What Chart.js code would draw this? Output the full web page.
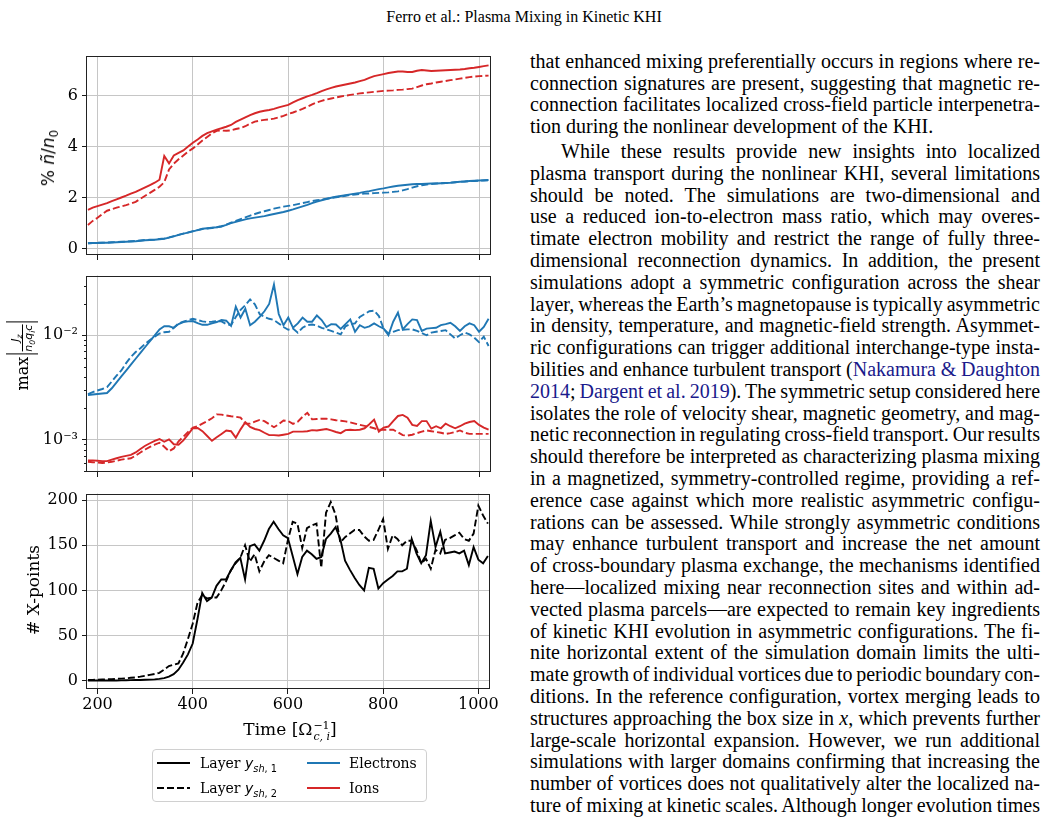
<!DOCTYPE html>
<html>
<head>
<meta charset="utf-8">
<script src="https://cdn.jsdelivr.net/npm/chart.js@4.4.1/dist/chart.umd.min.js"></script>
<style>
html,body{margin:0;padding:0;background:#fff}
body{position:relative;width:1048px;height:826px;overflow:hidden;font-family:"Liberation Serif","Times New Roman",serif;color:#000}
canvas{position:absolute;left:0}
#hdr{position:absolute;left:0;width:1048px;top:7px;text-align:center;font-size:16px;line-height:20px}
.ln{position:absolute;height:22px;line-height:22px;font-size:20px;white-space:nowrap}
.lk{color:#1a1a8c}
.yl{position:absolute;transform:translate(-50%,-50%) rotate(-90deg);white-space:nowrap;font-size:17px}
.sans{font-family:"DejaVu Sans",sans-serif}
.serif{font-family:"DejaVu Serif",serif}
sub,sup{font-size:70%;line-height:0}
#xt{position:absolute;left:290px;top:730px;transform:translate(-50%,-50%);font-family:"DejaVu Serif",serif;font-size:17px;white-space:nowrap}
.ss{display:inline-block;vertical-align:middle;line-height:11px;font-size:11px;text-align:left;margin-left:1px}
#legend{position:absolute;left:152px;top:749px;width:273px;height:51px;border:1px solid #d0d0d0;border-radius:4px;font-family:"DejaVu Serif",serif;font-size:14px}
.li{position:absolute;white-space:nowrap;transform:translateY(-50%)}
.sw{position:absolute}
.bar{display:inline-block;width:0;height:32px;border-left:1.6px solid #000;vertical-align:middle;margin:0 2px}
.frac{display:inline-block;vertical-align:middle;text-align:center;font-family:"DejaVu Sans",sans-serif;font-style:italic;font-size:11px;line-height:12px}
.frac .num{display:block;border-bottom:1px solid #000;padding:0 1px}
.frac .den{display:block}
</style>
</head>
<body>
<div id="hdr">Ferro et al.: Plasma Mixing in Kinetic KHI</div>

<canvas id="c1" width="500" height="230" style="top:40px"></canvas>
<canvas id="c2" width="500" height="226" style="top:262px"></canvas>
<canvas id="c3" width="500" height="260" style="top:480px"></canvas>

<div class="yl sans" style="left:48px;top:158px">%&nbsp;<i>ñ</i>/<i>n</i><sub>0</sub></div>
<div class="yl" style="left:22px;top:355px"><span class="serif" style="font-size:16px;vertical-align:middle">max</span><span class="bar"></span><span class="frac"><span class="num">J<sub>z</sub></span><span class="den">n<sub>0</sub>q<sub>i</sub>c</span></span><span class="bar"></span></div>
<div class="yl serif" style="left:33px;top:590px"># X-points</div>
<div id="xt">Time [Ω<span class="ss"><sup style="font-size:11px;line-height:11px;display:block;vertical-align:0">−1</sup><i style="display:block">c, i</i></span>]</div>

<div id="legend">
<svg class="sw" style="left:4px;top:6px" width="34" height="14"><line x1="0" y1="7" x2="33" y2="7" stroke="#000" stroke-width="1.9"/></svg>
<div class="li" style="left:47px;top:13px">Layer <span class="sans"><i>y</i><sub><i>sh</i>, 1</sub></span></div>
<svg class="sw" style="left:4px;top:31px" width="34" height="14"><line x1="0" y1="7" x2="33" y2="7" stroke="#000" stroke-width="1.9" stroke-dasharray="7,3"/></svg>
<div class="li" style="left:47px;top:38px">Layer <span class="sans"><i>y</i><sub><i>sh</i>, 2</sub></span></div>
<svg class="sw" style="left:154px;top:6px" width="34" height="14"><line x1="0" y1="7" x2="33" y2="7" stroke="#1f77b4" stroke-width="1.9"/></svg>
<div class="li" style="left:196px;top:13px">Electrons</div>
<svg class="sw" style="left:154px;top:31px" width="34" height="14"><line x1="0" y1="7" x2="33" y2="7" stroke="#d62728" stroke-width="1.9"/></svg>
<div class="li" style="left:196px;top:38px">Ions</div>
</div>

<div id="txt"></div>

<script>
// time samples (Omega_ci^-1)
const time=[180,190,200,210,220,230,240,250,260,270,
280,290,300,310,320,330,340,350,360,370,
380,390,400,410,420,430,440,450,460,470,
480,490,500,510,520,530,540,550,560,570,
580,590,600,610,620,630,640,650,660,670,
680,690,700,710,720,730,740,750,760,770,
780,790,800,810,820,830,840,850,860,870,
880,890,900,910,920,930,940,950,960,970,
980,990,1000,1010,1020]

// panel 1: % mixed density
const ionsMix1=[1.51,1.60,1.66,1.72,1.78,1.86,1.93,2.00,2.07,2.15,
2.22,2.31,2.40,2.49,2.58,2.70,3.63,3.34,3.65,3.75,
3.85,4.00,4.15,4.28,4.42,4.53,4.60,4.67,4.72,4.78,
4.85,4.97,5.06,5.15,5.24,5.31,5.37,5.41,5.44,5.48,
5.54,5.59,5.64,5.74,5.83,5.90,5.97,6.03,6.10,6.18,
6.25,6.31,6.36,6.40,6.44,6.48,6.52,6.57,6.62,6.70,
6.77,6.81,6.85,6.89,6.92,6.95,6.95,6.93,6.93,6.98,
7.01,6.99,6.97,6.98,6.99,7.00,7.01,7.02,7.03,7.05,
7.08,7.10,7.13,7.16,7.19]
const ionsMix2=[0.92,1.08,1.20,1.35,1.48,1.54,1.60,1.65,1.70,1.76,
1.83,1.95,2.07,2.18,2.30,2.42,2.60,3.10,3.33,3.50,
3.65,3.80,3.93,4.08,4.24,4.38,4.52,4.62,4.63,4.62,
4.64,4.69,4.73,4.80,4.90,4.98,5.02,5.05,5.07,5.10,
5.15,5.21,5.28,5.34,5.41,5.48,5.57,5.66,5.74,5.80,
5.85,5.89,5.93,5.97,6.00,6.03,6.06,6.09,6.11,6.13,
6.15,6.17,6.19,6.20,6.21,6.23,6.24,6.26,6.28,6.34,
6.40,6.45,6.48,6.52,6.55,6.58,6.61,6.64,6.67,6.70,
6.73,6.75,6.77,6.78,6.79]
const elecMix1=[0.20,0.21,0.21,0.22,0.22,0.23,0.24,0.25,0.26,0.27,
0.28,0.30,0.32,0.33,0.34,0.36,0.38,0.42,0.47,0.53,
0.58,0.62,0.67,0.72,0.77,0.79,0.81,0.83,0.86,0.92,
0.99,1.04,1.09,1.14,1.18,1.21,1.24,1.27,1.31,1.35,
1.39,1.43,1.48,1.53,1.59,1.65,1.71,1.78,1.84,1.89,
1.94,1.99,2.03,2.06,2.09,2.12,2.15,2.18,2.22,2.25,
2.29,2.33,2.36,2.40,2.43,2.46,2.48,2.50,2.52,2.53,
2.53,2.54,2.55,2.55,2.56,2.57,2.58,2.60,2.62,2.63,
2.65,2.66,2.67,2.68,2.69]
const elecMix2=[0.20,0.21,0.22,0.22,0.23,0.24,0.25,0.26,0.27,0.28,
0.29,0.31,0.33,0.34,0.35,0.37,0.39,0.43,0.48,0.53,
0.58,0.63,0.68,0.72,0.76,0.78,0.80,0.83,0.87,0.93,
1.01,1.08,1.15,1.22,1.29,1.35,1.41,1.46,1.51,1.56,
1.60,1.64,1.67,1.70,1.74,1.78,1.82,1.86,1.89,1.92,
1.95,1.98,2.01,2.04,2.07,2.10,2.12,2.14,2.15,2.16,
2.17,2.18,2.19,2.20,2.22,2.24,2.28,2.33,2.39,2.44,
2.48,2.51,2.53,2.55,2.56,2.57,2.58,2.60,2.62,2.63,
2.64,2.65,2.66,2.67,2.68]

// panel 2: max |Jz/(n0 qi c)|
const elecJz1=[.00267,.00270,.00273,.00276,.00279,.00310,.00353,.00403,.00458,.00522,
.00595,.00678,.00772,.0088,.0100,.0114,.0122,.0122,.0118,.0128,
.0134,.0136,.0137,.0131,.0126,.0126,.0130,.0134,.0140,.0138,
.0123,.0188,.0148,.0180,.0125,.0135,.0150,.0170,.0200,.0307,
.0160,.0125,.0148,.0118,.0130,.0148,.0135,.0135,.0155,.0140,
.0120,.0128,.0127,.0115,.0128,.0142,.0108,.0125,.0118,.0122,
.0130,.0122,.0116,.0100,.0135,.0165,.0114,.0128,.0142,.0140,
.0110,.0116,.0117,.0118,.0125,.0128,.0132,.0122,.0110,.0122,
.0130,.0125,.0108,.0120,.0144]
const elecJz2=[.00273,.00285,.00295,.00305,.00318,.00360,.00410,.00460,.00540,.00620,
.00690,.00750,.00830,.00900,.00970,.0104,.0107,.0108,.0118,.0130,
.0135,.0140,.0144,.0140,.0136,.0134,.0135,.0137,.0136,.0128,
.0125,.0150,.0175,.0195,.0221,.0198,.0160,.0150,.0144,.0140,
.0130,.0120,.0113,.0116,.0106,.0118,.0125,.0127,.0124,.0118,
.0114,.0110,.0106,.0102,.0122,.0128,.0130,.0150,.0160,.0170,
.0172,.0153,.0115,.0104,.0108,.0112,.0113,.0114,.0114,.0110,
.0105,.0100,.0106,.0108,.0110,.0112,.0102,.0093,.0100,.0106,
.0102,.0095,.0086,.0097,.0079]
const ionsJz1=[6.3e-4,6.3e-4,6.25e-4,6.2e-4,6.2e-4,6.4e-4,6.6e-4,6.8e-4,6.95e-4,7.1e-4,
7.5e-4,8.1e-4,8.7e-4,9.2e-4,9.7e-4,1.01e-3,9.5e-4,1.0e-3,9.0e-4,8.9e-4,
9.8e-4,1.12e-3,1.28e-3,1.29e-3,1.2e-3,1.08e-3,9.7e-4,1.05e-3,1.13e-3,1.22e-3,
1.2e-3,1.04e-3,1.25e-3,1.46e-3,1.32e-3,1.26e-3,1.23e-3,1.16e-3,1.1e-3,1.1e-3,
1.09e-3,1.11e-3,1.13e-3,1.19e-3,1.19e-3,1.19e-3,1.2e-3,1.23e-3,1.22e-3,1.24e-3,
1.26e-3,1.22e-3,1.18e-3,1.15e-3,1.23e-3,1.24e-3,1.23e-3,1.24e-3,1.28e-3,1.4e-3,
1.55e-3,1.19e-3,1.3e-3,1.33e-3,1.5e-3,1.68e-3,1.72e-3,1.62e-3,1.38e-3,1.35e-3,
1.5e-3,1.5e-3,1.27e-3,1.34e-3,1.28e-3,1.42e-3,1.34e-3,1.28e-3,1.34e-3,1.42e-3,
1.47e-3,1.5e-3,1.38e-3,1.3e-3,1.24e-3]
const ionsJz2=[6.1e-4,6.05e-4,6.0e-4,5.95e-4,6.0e-4,6.1e-4,6.25e-4,6.4e-4,6.5e-4,6.6e-4,
7.0e-4,7.5e-4,8.0e-4,8.5e-4,8.9e-4,9.3e-4,8.5e-4,7.7e-4,8.2e-4,9.6e-4,
1.06e-3,1.18e-3,1.30e-3,1.34e-3,1.42e-3,1.50e-3,1.60e-3,1.74e-3,1.73e-3,1.70e-3,
1.67e-3,1.65e-3,1.62e-3,1.42e-3,1.42e-3,1.48e-3,1.54e-3,1.50e-3,1.40e-3,1.31e-3,
1.40e-3,1.52e-3,1.50e-3,1.41e-3,1.48e-3,1.65e-3,1.80e-3,1.56e-3,1.57e-3,1.58e-3,
1.58e-3,1.56e-3,1.53e-3,1.51e-3,1.49e-3,1.46e-3,1.42e-3,1.38e-3,1.35e-3,1.32e-3,
1.28e-3,1.24e-3,1.24e-3,1.24e-3,1.24e-3,1.17e-3,1.10e-3,1.09e-3,1.11e-3,1.15e-3,
1.19e-3,1.22e-3,1.20e-3,1.18e-3,1.16e-3,1.13e-3,1.15e-3,1.18e-3,1.22e-3,1.16e-3,
1.13e-3,1.13e-3,1.13e-3,1.13e-3,1.13e-3]

// panel 3: number of X-points
const xpts1=[0,0,0,0,0,0,0.1,0.2,0.3,0.4,
0.5,0.6,0.8,1.0,1.3,1.8,2.7,4.3,7.0,12,
20,29,41,68,97,88,92,105,112,112,
122,131,136,112,149,151,144,155,168,176,
168,161,158,138,118,137,144,140,135,137,
157,163,170,157,133,123,114,106,100,125,
124,102,108,112,116,121,121,124,157,141,
130,139,177,148,165,141,142,143,141,144,
128,148,134,130,138]
const xpts2=[0.5,0.7,0.9,1.1,1.3,1.5,1.8,2.1,2.5,3.0,
3.5,4.3,5.3,6.3,7.3,8.5,12,16,17.5,19,
30,46,63,86,95,91,92,92,100,110,
122,130,136,150,132,140,121,132,139,136,
133,130,156,176,174,147,169,172,174,125,
186,198,184,153,159,163,167,167,160,155,
156,167,179,146,161,157,150,155,155,145,
130,135,124,145,141,156,158,161,164,157,
155,163,194,183,174]

const xTicks=[200,400,600,800,1000]
const mixTicks=[0,2,4,6]
const jzMajor=[0.001,0.01]
const jzMinor=[5e-4,6e-4,7e-4,8e-4,9e-4,2e-3,3e-3,4e-3,5e-3,6e-3,7e-3,8e-3,9e-3,2e-2,3e-2]
const xpTicks=[0,50,100,150,200]

const BLUE='#1f77b4'
const RED='#d62728'
const GRID='#c6c6c6'
const TICK='#1a1a1a'

Chart.defaults.font.family='"DejaVu Serif", serif'
Chart.defaults.font.size=16
Chart.defaults.color='#000'

// frame + minor ticks
const deco={
id:'deco',
afterDraw(c,args,o){
const a=c.chartArea
const g=c.ctx
g.save()
g.strokeStyle=TICK
g.lineWidth=1
if(o.minor){
const ys=c.scales.y
g.beginPath()
o.minor.forEach(v=>{
const p=Math.round(ys.getPixelForValue(v))+0.5
g.moveTo(a.left-3,p)
g.lineTo(a.left,p)
})
g.stroke()
}
g.strokeStyle='#222'
g.strokeRect(Math.round(a.left)-0.5,Math.round(a.top)+0.5,Math.round(a.right-a.left)+1,Math.round(a.bottom-a.top)-1)
g.restore()
}
}

function series(ys,color,dashed){
return {
data:time.map((t,i)=>({x:t,y:ys[i]})),
borderColor:color,
borderWidth:1.9,
borderDash:dashed?[7,3]:[],
pointRadius:0,
fill:false,
tension:0
}
}

function xAxis(show,h){
return {
type:'linear',min:178,max:1023,
afterBuildTicks(s){s.ticks=xTicks.map(v=>({value:v}))},
afterFit(s){s.height=h},
border:{display:false},
grid:{color:GRID,lineWidth:1,tickLength:5,tickColor:TICK},
ticks:{display:show,maxRotation:0,autoSkip:false,padding:1,callback:v=>String(v)}
}
}

function yGrid(){
return {color:GRID,lineWidth:1,tickLength:5,tickColor:TICK}
}

function panel(id,datasets,yScale,showX,xh,padTop,decoOpts){
return new Chart(document.getElementById(id),{
type:'line',
data:{datasets:datasets},
options:{
responsive:false,
animation:false,
events:[],
layout:{padding:{top:padTop,right:10,left:0,bottom:0}},
plugins:{legend:{display:false},tooltip:{enabled:false},deco:decoOpts||{}},
scales:{x:xAxis(showX,xh),y:yScale}
},
plugins:[deco]
})
}

panel("c1",[
series(elecMix1,BLUE,false),
series(elecMix2,BLUE,true),
series(ionsMix1,RED,false),
series(ionsMix2,RED,true)
],{
type:'linear',min:-0.26,max:7.56,
afterBuildTicks(s){s.ticks=mixTicks.map(v=>({value:v}))},
afterFit(s){s.width=87},
border:{display:false},
grid:yGrid(),
ticks:{padding:4,autoSkip:false,callback:v=>String(v)}
},false,15,16)

panel("c2",[
series(elecJz1,BLUE,false),
series(elecJz2,BLUE,true),
series(ionsJz1,RED,false),
series(ionsJz2,RED,true)
],{
type:'logarithmic',min:4.87e-4,max:0.0374,
afterBuildTicks(s){s.ticks=jzMajor.map(v=>({value:v}))},
afterFit(s){s.width=87},
border:{display:false},
grid:yGrid(),
ticks:{padding:4,autoSkip:false,callback:v=>v===0.01?'10\u207B\u00B2':(v===0.001?'10\u207B\u00B3':'')}
},false,16,12,{minor:jzMinor})

panel("c3",[
series(xpts1,'#000',false),
series(xpts2,'#000',true)
],{
type:'linear',min:-9.4,max:207.3,
afterBuildTicks(s){s.ticks=xpTicks.map(v=>({value:v}))},
afterFit(s){s.width=87},
border:{display:false},
grid:yGrid(),
ticks:{padding:4,autoSkip:false,callback:v=>String(v)}
},true,51,11)

// text column
const lines=[
["that enhanced mixing preferentially occurs in regions where re-",1],
["connection signatures are present, suggesting that magnetic re-",1],
["connection facilitates localized cross-field particle interpenetra-",1],
["tion during the nonlinear development of the KHI.",0],
["While these results provide new insights into localized",1,1],
["plasma transport during the nonlinear KHI, several limitations",1],
["should be noted. The simulations are two-dimensional and",1],
["use a reduced ion-to-electron mass ratio, which may overes-",1],
["timate electron mobility and restrict the range of fully three-",1],
["dimensional reconnection dynamics. In addition, the present",1],
["simulations adopt a symmetric configuration across the shear",1],
["layer, whereas the Earth\u2019s magnetopause is typically asymmetric",1],
["in density, temperature, and magnetic-field strength. Asymmet-",1],
["ric configurations can trigger additional interchange-type insta-",1],
["bilities and enhance turbulent transport (<span class='lk'>Nakamura &amp; Daughton</span>",1],
["<span class='lk'>2014</span>; <span class='lk'>Dargent et al. 2019</span>). The symmetric setup considered here",1],
["isolates the role of velocity shear, magnetic geometry, and mag-",1],
["netic reconnection in regulating cross-field transport. Our results",1],
["should therefore be interpreted as characterizing plasma mixing",1],
["in a magnetized, symmetry-controlled regime, providing a ref-",1],
["erence case against which more realistic asymmetric configu-",1],
["rations can be assessed. While strongly asymmetric conditions",1],
["may enhance turbulent transport and increase the net amount",1],
["of cross-boundary plasma exchange, the mechanisms identified",1],
["here\u2014localized mixing near reconnection sites and within ad-",1],
["vected plasma parcels\u2014are expected to remain key ingredients",1],
["of kinetic KHI evolution in asymmetric configurations. The fi-",1],
["nite horizontal extent of the simulation domain limits the ulti-",1],
["mate growth of individual vortices due to periodic boundary con-",1],
["ditions. In the reference configuration, vortex merging leads to",1],
["structures approaching the box size in <i>x</i>, which prevents further",1],
["large-scale horizontal expansion. However, we run additional",1],
["simulations with larger domains confirming that increasing the",1],
["number of vortices does not qualitatively alter the localized na-",1],
["ture of mixing at kinetic scales. Although longer evolution times",1]
]

const txt=document.getElementById("txt")
lines.forEach((l,i)=>{
const d=document.createElement("div")
d.className="ln"
const indent=l[2]?31:0
const W=510-indent
d.style.left=(530+indent)+"px"
d.style.width=W+"px"
const c=63.3+i*21.8+(i>=4?3:0)
d.style.top=(c-13.5)+"px"
const s=document.createElement("span")
s.innerHTML=l[0]
d.appendChild(s)
txt.appendChild(d)
if(l[1]){
const w=s.getBoundingClientRect().width
const n=(s.textContent.match(/ /g)||[]).length
if(n>0) d.style.wordSpacing=((W-w)/n)+"px"
}
})
</script>
</body>
</html>
